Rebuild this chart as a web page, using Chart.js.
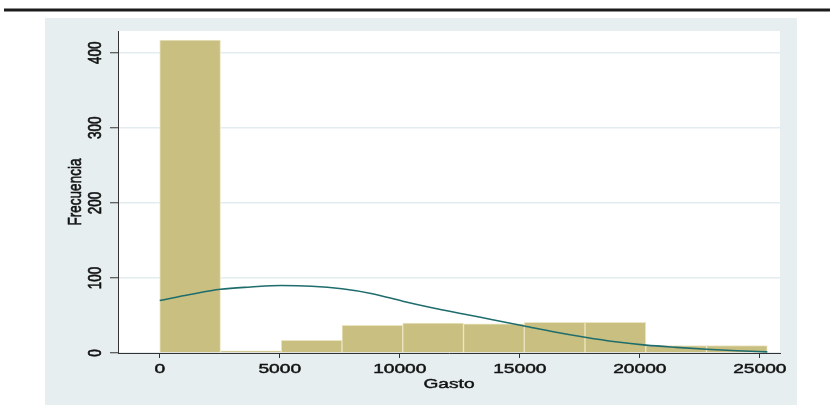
<!DOCTYPE html>
<html>
<head>
<meta charset="utf-8">
<script src="https://cdn.jsdelivr.net/npm/chart.js@4"></script>
<style>
  html, body { margin: 0; padding: 0; background: #ffffff; }
  #wrap { width: 830px; height: 408px; position: relative; }
</style>
</head>
<body>
<div id="wrap"><canvas id="c"></canvas></div>
<script>
// Histogram of spending (Gasto) with an overlaid normal curve
const binStarts = [0, 2531, 5062, 7593, 10124, 12655, 15186, 17717, 20248, 22779];
const binWidth = 2531;
const frequencies = [417, 3, 17, 37, 40, 39, 41, 41, 10, 10];

// Normal curve, read at half-bin steps
const curveGasto = [0, 1265, 2531, 3796, 5062, 6327, 7593, 8858, 10124, 11389, 12655,
                    13920, 15186, 16451, 17717, 18982, 20248, 21513, 22779, 24044, 25310];
const curveFrecuencia = [70, 78, 85, 88, 90, 89, 85.5, 79, 69, 60, 52,
                         44, 36, 28, 21, 15, 10.5, 7.5, 5, 3, 1.5];

const xTickValues = [0, 5000, 10000, 15000, 20000, 25000];
const yTickValues = [0, 100, 200, 300, 400];
const xTitle = 'Gasto';
const yTitle = 'Frecuencia';

const TEXT_SX = 1.42;               // horizontal stretch of all lettering
const FONT = '13.5px "Liberation Sans", Arial, sans-serif';

const barData = binStarts.map((s, i) => ({ x: s + binWidth / 2, y: frequencies[i] }));
const curveData = curveGasto.map((g, i) => ({ x: g, y: curveFrecuencia[i] }));

function drawText(ctx, text, x, y, rot) {
  ctx.save();
  ctx.translate(x, y);
  ctx.scale(TEXT_SX, 1);
  ctx.rotate(rot);
  ctx.strokeText(text, 0, 0);
  ctx.fillText(text, 0, 0);
  ctx.restore();
}

const frame = {
  id: 'frame',
  beforeDraw(chart) {
    const { ctx, chartArea: a } = chart;
    ctx.save();
    ctx.fillStyle = '#ffffff';
    ctx.fillRect(0, 0, chart.width, chart.height);
    // rule across the top
    ctx.fillStyle = '#1c1c1c';
    ctx.fillRect(4, 8.5, 826, 3);
    // graph region
    ctx.fillStyle = '#e6eef0';
    ctx.fillRect(45, 18, 752, 387);
    // plot region
    ctx.fillStyle = '#ffffff';
    ctx.fillRect(a.left, a.top, a.right - a.left, a.bottom - a.top);
    ctx.restore();
  },
  afterDraw(chart) {
    const { ctx, chartArea: a, scales: { x, y } } = chart;
    ctx.save();
    ctx.font = FONT;
    ctx.fillStyle = '#111111';
    ctx.strokeStyle = '#111111';
    ctx.lineWidth = 0.45;
    ctx.textAlign = 'center';
    ctx.textBaseline = 'alphabetic';
    xTickValues.forEach(v => drawText(ctx, String(v), x.getPixelForValue(v), 373, 0));
    yTickValues.forEach(v => drawText(ctx, String(v), 100.5, y.getPixelForValue(v), -Math.PI / 2));
    drawText(ctx, xTitle, (a.left + a.right) / 2, 388, 0);
    drawText(ctx, yTitle, 80.5, (a.top + a.bottom) / 2, -Math.PI / 2);
    ctx.restore();
  }
};

new Chart(document.getElementById('c'), {
  type: 'bar',
  data: {
    datasets: [
      {
        type: 'line',
        data: curveData,
        borderColor: '#1f6c6d',
        borderWidth: 1.6,
        pointRadius: 0,
        fill: false,
        cubicInterpolationMode: 'monotone',
        order: 0
      },
      {
        type: 'bar',
        data: barData,
        backgroundColor: '#c8bf80',
        borderColor: '#ebe5c3',
        borderWidth: 1,
        barPercentage: 1,
        categoryPercentage: 1,
        order: 1
      }
    ]
  },
  options: {
    responsive: true,
    maintainAspectRatio: false,
    animation: false,
    events: [],
    layout: { padding: { left: 110, top: 31, right: 50, bottom: 50 } },
    plugins: { legend: { display: false }, tooltip: { enabled: false } },
    scales: {
      x: {
        type: 'linear',
        min: -1739,
        max: 25840,
        offset: false,
        afterBuildTicks: s => { s.ticks = xTickValues.map(v => ({ value: v })); },
        ticks: { display: false },
        grid: {
          display: true, drawOnChartArea: false, drawTicks: true, offset: false,
          tickLength: 5, tickColor: '#333333', tickWidth: 1
        },
        border: { color: '#333333', width: 1 }
      },
      y: {
        type: 'linear',
        min: 0,
        max: 429,
        afterBuildTicks: s => { s.ticks = yTickValues.map(v => ({ value: v })); },
        ticks: { display: false },
        grid: {
          display: true, drawOnChartArea: true, drawTicks: true,
          color: '#e3ecef', lineWidth: 1.5,
          tickLength: 8, tickColor: '#333333', tickWidth: 1
        },
        border: { color: '#333333', width: 1 }
      }
    }
  },
  plugins: [frame]
});
</script>
</body>
</html>
